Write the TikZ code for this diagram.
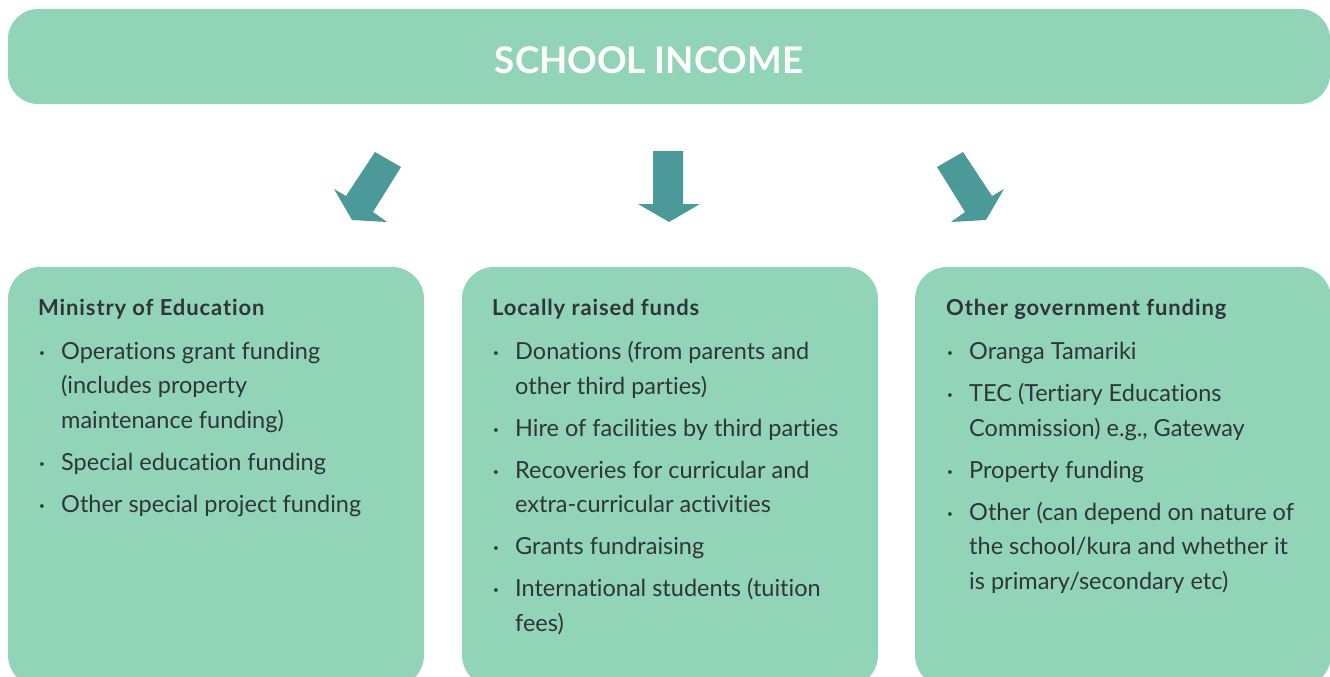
\documentclass[tikz,border=0pt]{standalone}
\usepackage{fontspec}
\setmainfont{Lato}[Ligatures=NoCommon]
\definecolor{mint}{HTML}{92D4B8}
\definecolor{arrowteal}{HTML}{4B9999}
\definecolor{ink}{HTML}{2F3538}
\newcommand{\bul}{\makebox[23pt][l]{\hspace{1pt}\raisebox{3pt}{\fontsize{10}{10}\selectfont\textbullet}}}
\newcommand{\ind}{\hspace*{23pt}}
\begin{document}
\begin{tikzpicture}[x=1pt,y=-1pt,
  panel/.style={fill=mint,rounded corners=32pt,inner sep=0pt,outer sep=0pt,anchor=north west},
  title/.style={text=white,font=\fontsize{36.7}{37}\selectfont\bfseries,anchor=base},
  head/.style={text=ink,font=\fontsize{22}{26}\selectfont\bfseries\addfontfeatures{LetterSpace=4},anchor=base west,inner sep=0pt},
  items/.style={text=ink,font=\fontsize{23.5}{34.5}\selectfont,align=left,anchor=base west,inner sep=0pt},
  bigarrow/.style={fill=arrowteal}]
\useasboundingbox (0,0) rectangle (1330,677);
\node[panel,rounded corners=30pt,minimum width=1322pt,minimum height=95pt] (income) at (8,9) {};
\node[title] (incometext) at (649,74) {SCHOOL INCOME};
\fill[bigarrow] (375,152)--(401,167)--(373,212)--(387,222)--(352,220)--(334,189)--(346,196)--cycle;
\fill[bigarrow] (653,151)--(683,151)--(683,204)--(700,204)--(669,222)--(638,204)--(653,204)--cycle;
\fill[bigarrow] (963,152)--(937,167)--(965,212)--(951,222)--(986,220)--(1004,189)--(992,196)--cycle;
\node[panel,minimum width=416pt,minimum height=420pt] (moe) at (8,267) {};
\node[panel,minimum width=416pt,minimum height=420pt] (local) at (462,267) {};
\node[panel,minimum width=416pt,minimum height=420pt] (govt) at (915,267) {};
\node[head] (moehead) at (38,315) {Ministry of Education};
\node[head] (localhead) at (492,315) {Locally raised funds};
\node[head] (govthead) at (946,315) {Other government funding};
% base of a multi-line node sits on its last line
\node[items] (moelist) at (38,512) {\bul Operations grant funding\\ \ind(includes property\\ \ind maintenance funding)\\[7.5pt]
  \bul Special education funding\\[7.5pt]
  \bul Other special project funding};
\node[items] (locallist) at (492,631) {\bul Donations (from parents and\\ \ind other third parties)\\[7.5pt]
  \bul Hire of facilities by third parties\\[7.5pt]
  \bul Recoveries for curricular and\\ \ind extra-curricular activities\\[7.5pt]
  \bul Grants fundraising\\[7.5pt]
  \bul International students (tuition\\ \ind fees)};
\node[items] (govtlist) at (946,589) {\bul Oranga Tamariki\\[7.5pt]
  \bul TEC (Tertiary Educations\\ \ind Commission) e.g., Gateway\\[7.5pt]
  \bul Property funding\\[7.5pt]
  \bul Other (can depend on nature of\\ \ind the school/kura and whether it\\ \ind is primary/secondary etc)};
\end{tikzpicture}
\end{document}
